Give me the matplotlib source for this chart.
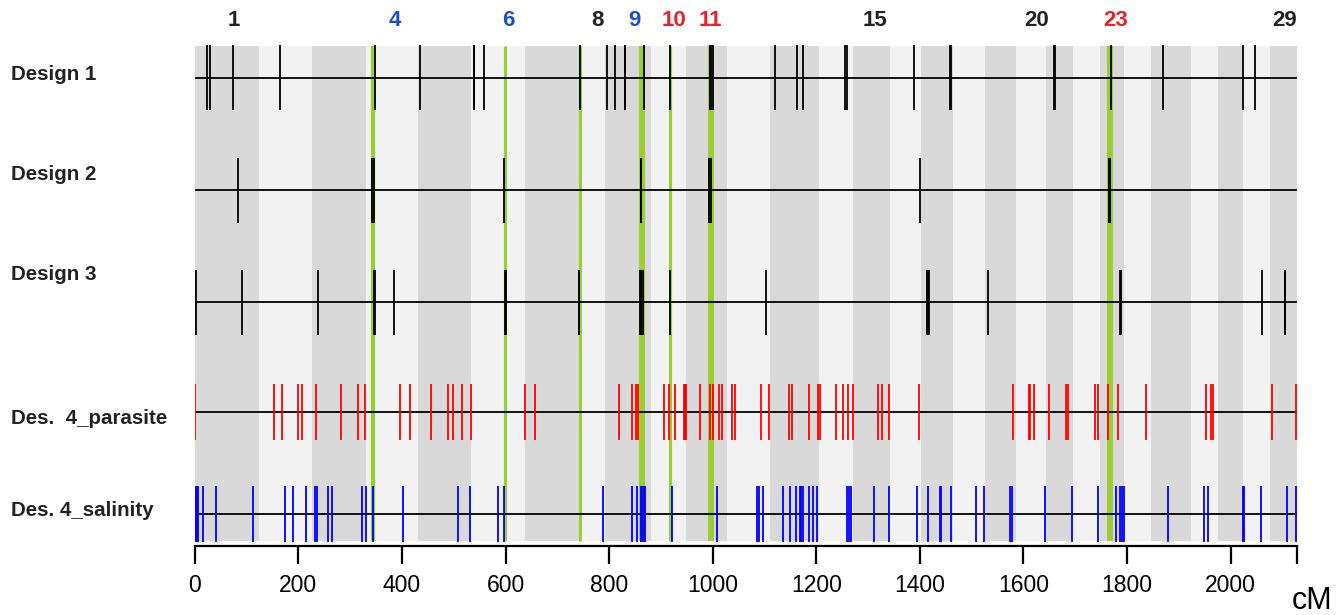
import numpy as np
import matplotlib
matplotlib.use("Agg")
import matplotlib.pyplot as plt

plt.rcParams['font.family'] = ['Liberation Sans', 'DejaVu Sans']

W, H = 1339, 615

# chromosome end positions (cumulative cM), chromosomes 1..29
chrom_ends = [124.0, 227.1, 330.6, 431.2, 533.3, 638.5, 743.8, 792.1, 879.9, 948.4,
              1027.2, 1110.6, 1205.8, 1271.5, 1342.3, 1402.2, 1463.4, 1525.8, 1585.6,
              1643.6, 1695.7, 1747.8, 1794.7, 1846.3, 1923.5, 1975.7, 2024.5, 2076.1, 2127.4]

# chromosome labels on top
top_labels = ['1', '4', '6', '8', '9', '10', '11', '15', '20', '23', '29']
top_label_pos = [75, 387, 605, 778, 849, 926, 995, 1314, 1625, 1778, 2105]
top_label_group = ['k', 'b', 'b', 'k', 'b', 'r', 'r', 'k', 'k', 'r', 'k']

# QTL positions (green lines)
qtl_pos = [345, 598.5, 743, 864, 917.6, 996, 1766.6]
qtl_width = [3.0, 2.2, 2.2, 4.3, 2.2, 4.3, 4.3]

design1 = [23.2, 30.1, 72.8, 164.5, 348, 434, 538.5, 540, 558.5, 744.5, 795.5, 812,
           830, 831.5, 867.4, 917.6, 994.5, 997.5, 1000.5, 1120, 1163, 1174.7, 1254.7,
           1259.5, 1388, 1459, 1460.5, 1659.3, 1660.8, 1770, 1868.5, 2023.7, 2046.3]
design2 = [83.8, 343, 345.5, 597.6, 861, 862.5, 993.8, 996.2, 1399.6, 1764.6, 1767]
design3 = [1.7, 92, 237.7, 346, 347.5, 385.2, 599, 600.5, 741, 742.5, 859.8, 862.2,
           864.6, 917.6, 1102.4, 1413.5, 1415.7, 1417.9, 1531.4, 1787.2, 1788.6,
           2060.3, 2104.3, 2105.7]
parasite = [0.5, 152.1, 168, 199.7, 206.6, 234.2, 281.7, 314.9, 329.4, 395.5, 414.8,
            456.2, 489.3, 498.3, 516.1, 533.5, 637.6, 656.1, 818.3, 844.4, 851.3, 856.1,
            905.8, 915.4, 927.9, 945.2, 947.2, 949.2, 976.2, 994, 1001, 1012.7, 1017.6,
            1036.9, 1043.8, 1092.7, 1107.9, 1146.5, 1153.3, 1185.1, 1203, 1206.4,
            1237.5, 1251.4, 1261.6, 1270.6, 1318.9, 1326.4, 1340.2, 1397.5, 1580.2,
            1610, 1613.4, 1620.2, 1649.9, 1682.9, 1685.8, 1738.2, 1744.4, 1763.7,
            1782.4, 1837.5, 1952, 1961.7, 1965.1, 2080.2, 2126.5]
salinity = [0.5, 2.5, 4.5, 6.6, 16.2, 40.4, 112.8, 173.4, 190, 214.9, 232.8, 236.9,
            256.9, 264.5, 323.8, 330.7, 343.9, 402.4, 508.6, 530.6, 585.2, 597.6, 788.6,
            843.7, 853.4, 861, 863.7, 866.5, 869.2, 921.6, 1008, 1085.8, 1088.6, 1097.5,
            1135.5, 1150, 1161, 1168.5, 1171.3, 1174.1, 1185.1, 1193.3, 1200.8, 1258.9,
            1263.7, 1266.5, 1310.7, 1339.6, 1395.4, 1415.5, 1438.8, 1440.9, 1460.3,
            1509.1, 1523, 1574.7, 1578.1, 1642.3, 1693.9, 1744.4, 1779, 1786.5, 1790,
            1794.1, 1879, 1948, 1956.2, 2023.8, 2025.8, 2059.6, 2107.9, 2126.5]

row_names = ['Design 1', 'Design 2', 'Design 3', 'Des.  4_parasite', 'Des. 4_salinity']
row_data = [design1, design2, design3, parasite, salinity]

x_max = chrom_ends[-1]
x_ticks = list(range(0, 2001, 200))

# layout (pixel based, y grows downwards)
row_y = [78, 190.5, 302.5, 412, 514]
row_half = [32.5, 32.5, 32.5, 28, 28]
row_color = ['black', 'black', 'black', '#ff0000', '#0000ff']
label_y = [74, 175, 275, 418, 511]
band_top, band_bot = 46, 541
axis_y = 546
group_color = {'k': '#222222', 'b': '#1c4fc4', 'r': '#e8202a'}

fig = plt.figure(figsize=(W / 100, H / 100), dpi=100)
x0, x1 = 194.8, 1296.6
ax = fig.add_axes([x0 / W, 1 - axis_y / H, (x1 - x0) / W, (axis_y - 40) / H])
ax.set_xlim(0, x_max)
ax.set_ylim(axis_y, 40)

# alternating chromosome bands
starts = [0] + chrom_ends[:-1]
widths = np.diff([0] + chrom_ends)
band_cols = ['#d9d9d9' if i % 2 == 0 else '#f2f2f2' for i in range(len(chrom_ends))]
ax.bar(starts, band_bot - band_top, width=widths, bottom=band_top, align='edge',
       color=band_cols, linewidth=0, zorder=1)

# QTL lines
for p, w in zip(qtl_pos, qtl_width):
    ax.vlines(p, band_top, band_bot, color='#9acd32', linewidth=w, zorder=2)

# rows
for y, h, col, data in zip(row_y, row_half, row_color, row_data):
    ax.hlines(y, 0, x_max, color='black', linewidth=1.3, zorder=3)
    ax.vlines(data, y - h, y + h, color=col, linewidth=1.3, zorder=4)

for name, y in zip(row_names, label_y):
    fig.text(11 / W, 1 - y / H, name, ha='left', va='center', fontsize=14.8,
             fontweight='bold', color='#222222')

for lab, p, g in zip(top_labels, top_label_pos, top_label_group):
    ax.text(p, 20, lab, ha='center', va='center', fontsize=16, fontweight='bold',
            color=group_color[g], clip_on=False)

# x axis
for s in ['top', 'left', 'right']:
    ax.spines[s].set_visible(False)
ax.spines['bottom'].set_linewidth(1.6)
ax.set_yticks([])
ax.set_xticks(x_ticks + [x_max])
ax.set_xticklabels([str(t) for t in x_ticks] + [''])
ax.tick_params(axis='x', length=13, width=1.6, pad=7, labelsize=16.5)

fig.text(1312 / W, 1 - 601 / H, 'cM', ha='center', va='center', fontsize=22)

fig.savefig('out.png', dpi=100)
